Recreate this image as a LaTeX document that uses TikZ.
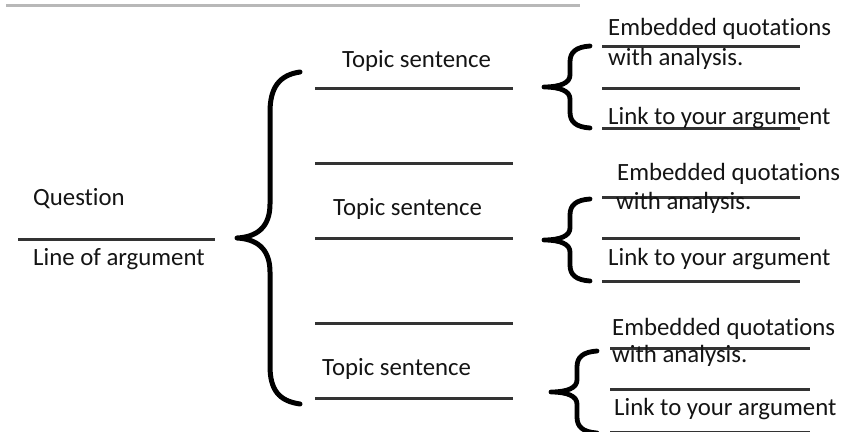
\documentclass[tikz,border=0pt]{standalone}
\usepackage{fontspec}
\setmainfont{Carlito}[Ligatures={NoCommon,NoContextual}]
\begin{document}
\begin{tikzpicture}[x=1pt,y=-1pt,
  label/.style={anchor=base west,inner sep=0pt,text=black!92,font=\fontsize{24.8}{28}\selectfont},
  blank/.style={draw=black!80,line width=3pt},
  bigbrace/.style={draw=black,line width=5pt,line cap=round,line join=round},
  sbrace/.pic={
    \draw[line width=4.8pt,line cap=round,line join=round]
      (47,-41) .. controls (33,-40) and (27,-35) .. (27,-25) -- (27,-12)
      .. controls (27,-4) and (17,0) .. (1,0)
      .. controls (17,0) and (27,4) .. (27,12) -- (27,25)
      .. controls (27,35) and (33,40) .. (47,41);
  }]
\useasboundingbox (0,0) rectangle (843,431);

% header rule
\draw[draw=black!28,line width=3pt] (6,5) -- (580,5);

% question and line of argument
\node[label] (q) at (33,205) {Question};
\draw[blank] (18,239) -- (215,239);
\node[label] (loa) at (33,265) {Line of argument};

% main brace
\draw[bigbrace] (300,72) .. controls (279,75) and (270,88) .. (270,112) -- (270,204)
  .. controls (270,228) and (256,237) .. (237,238)
  .. controls (256,239) and (270,248) .. (270,272) -- (270,366)
  .. controls (270,390) and (279,401) .. (300,404);

% topic sentences
\node[label] (t1) at (342,67) {Topic sentence};
\node[label] (t2) at (333,215) {Topic sentence};
\node[label] (t3) at (322,375) {Topic sentence};
\foreach \yy in {88,163,238,323,398}
  \draw[blank] (315,\yy) -- (513,\yy);

% first paragraph
\pic at (543,87) {sbrace};
\foreach \yy in {46,88,128}
  \draw[blank] (602,\yy) -- (800,\yy);
\node[label] (e1) at (608,35) {Embedded quotations};
\node[label] (a1) at (608,65) {with analysis.};
\node[label] (l1) at (608,124) {Link to your argument};

% second paragraph
\pic at (543,240) {sbrace};
\foreach \yy in {197,238,281}
  \draw[blank] (602,\yy) -- (800,\yy);
\node[label] (e2) at (617,180) {Embedded quotations};
\node[label] (a2) at (616,209) {with analysis.};
\node[label] (l2) at (608,265) {Link to your argument};

% third paragraph
\pic at (550,392) {sbrace};
\foreach \yy in {348,389,432}
  \draw[blank] (610,\yy) -- (810,\yy);
\node[label] (e3) at (612,335) {Embedded quotations};
\node[label] (a3) at (612,362) {with analysis.};
\node[label] (l3) at (614,415) {Link to your argument};
\end{tikzpicture}
\end{document}
